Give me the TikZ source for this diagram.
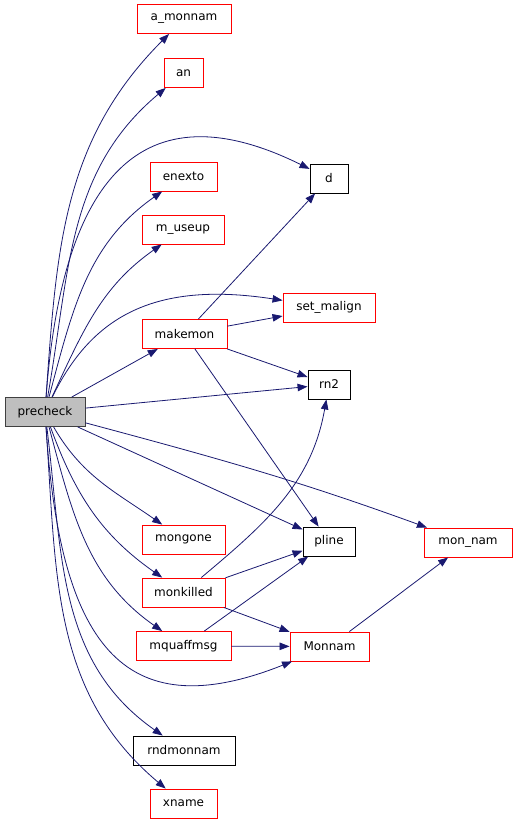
\documentclass[tikz,border=0pt]{standalone}
\usepackage{fontspec}
\setmainfont{DejaVu Sans}
\usetikzlibrary{arrows.meta}
\definecolor{edgec}{HTML}{191970}
\begin{document}
\begin{tikzpicture}[x=1pt,y=-1pt,
 box/.style={draw=red, line width=0.9pt, minimum height=29pt, inner sep=0pt, fill=white, font=\fontsize{12}{14}\selectfont},
 bbox/.style={box, draw=black},
 root/.style={box, draw=black!75, fill=black!25},
 e/.style={draw=edgec, line width=0.8pt, -{Triangle[length=10pt,width=7.5pt]}}]
\useasboundingbox (0,0) rectangle (517,824);
\node[root, minimum width=80pt] (pc) at (45,412) {precheck};
\node[box, minimum width=94pt] (amonnam) at (184,19) {a\_monnam};
\node[box, minimum width=39pt] (an) at (183.5,73) {an};
\node[bbox, minimum width=38pt] (d) at (329,178.5) {d};
\node[box, minimum width=67pt] (enexto) at (183.5,176.5) {enexto};
\node[box, minimum width=82pt] (museup) at (183,229.5) {m\_useup};
\node[box, minimum width=92pt] (setmalign) at (329,307.5) {set\_malign};
\node[box, minimum width=85pt] (makemon) at (184.5,334) {makemon};
\node[bbox, minimum width=42pt] (rn2) at (329,384.5) {rn2};
\node[box, minimum width=83pt] (mongone) at (183.5,539.5) {mongone};
\node[bbox, minimum width=52pt] (pline) at (329,541.5) {pline};
\node[box, minimum width=88pt] (monnaml) at (468,542.5) {mon\_nam};
\node[box, minimum width=83pt] (monkilled) at (183.5,592.5) {monkilled};
\node[box, minimum width=95pt] (mquaffmsg) at (183.5,646) {mquaffmsg};
\node[box, minimum width=79pt] (Monnam) at (329.5,646.5) {Monnam};
\node[bbox, minimum width=102pt] (rndmonnam) at (184,750.5) {rndmonnam};
\node[box, minimum width=67pt] (xname) at (183.5,803.5) {xname};

\draw[e] (pc) to[out=86,in=-135] (amonnam);
\draw[e] (pc) to[out=80,in=-140] (an);
\draw[e] (pc) .. controls (62,180) and (140,85) .. (d);
\draw[e] (pc) to[out=75,in=-145] (enexto);
\draw[e] (pc) to[out=65,in=-145] (museup);
\draw[e] (pc) .. controls (90,320) and (150,280) .. (setmalign);
\draw[e] (pc) -- (makemon);
\draw[e] (pc) -- (rn2);
\draw[e] (pc) to[out=-60,in=145] (mongone);
\draw[e] (pc) -- (pline);
\draw[e] (pc) to[out=-15,in=160] (monnaml);
\draw[e] (pc) to[out=-70,in=145] (monkilled);
\draw[e] (pc) to[out=-75,in=145] (mquaffmsg);
\draw[e] (pc) .. controls (60,640) and (120,730) .. (Monnam);
\draw[e] (pc) to[out=-83,in=145] (rndmonnam);
\draw[e] (pc) to[out=-86,in=140] (xname);
\draw[e] (makemon) -- (d);
\draw[e] (makemon) -- (setmalign);
\draw[e] (makemon) -- (rn2);
\draw[e] (makemon) -- (pline);
\draw[e] (monkilled) to[out=40,in=-100] (rn2);
\draw[e] (monkilled) -- (pline);
\draw[e] (monkilled) -- (Monnam);
\draw[e] (mquaffmsg) -- (pline);
\draw[e] (mquaffmsg) -- (Monnam);
\draw[e] (Monnam) -- (monnaml);
\end{tikzpicture}
\end{document}
